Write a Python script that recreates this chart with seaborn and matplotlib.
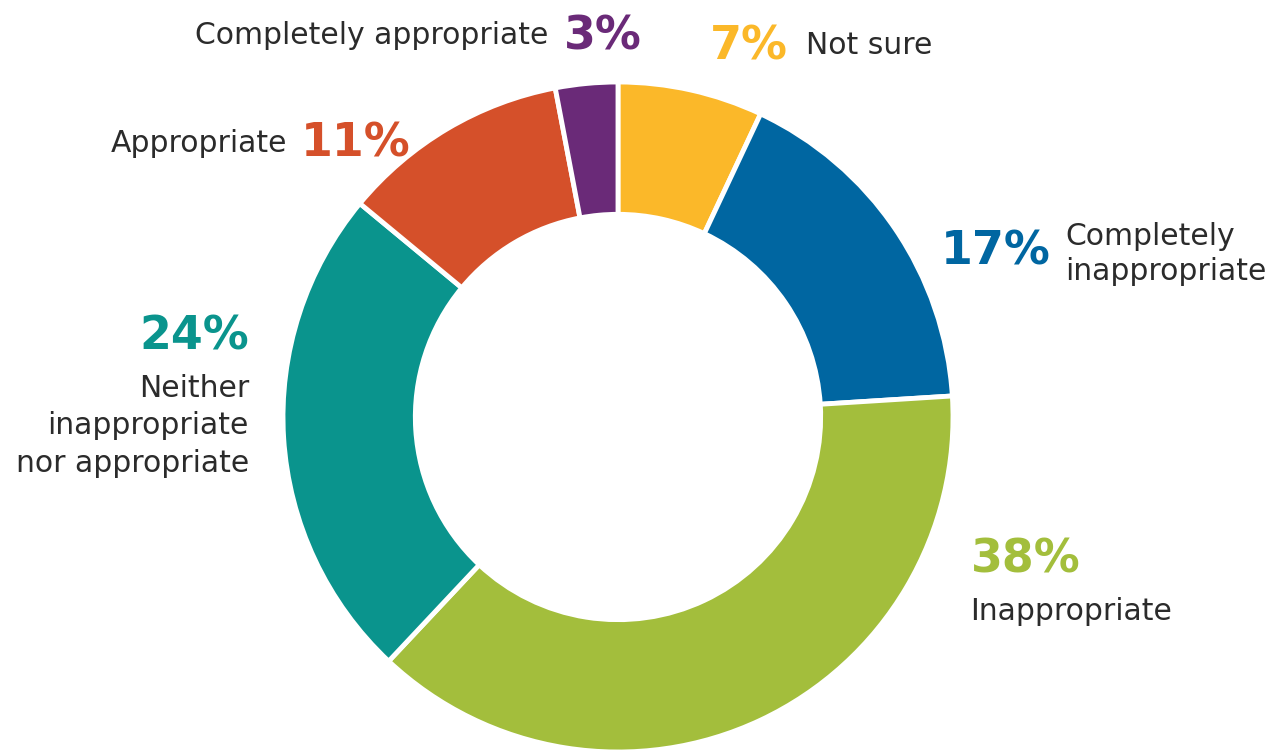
import matplotlib
matplotlib.use("Agg")
import matplotlib.pyplot as plt
import seaborn as sns

sns.set_theme(style="white")
plt.rcParams['font.family'] = ['DejaVu Sans']

# Data, clockwise from 12 o'clock
categories = ["Not sure", "Completely inappropriate", "Inappropriate",
              "Neither inappropriate nor appropriate", "Appropriate",
              "Completely appropriate"]
values = [7, 17, 38, 24, 11, 3]
colors = ["#FBB829", "#0066A1", "#A3BE3C", "#0A948D", "#D5502A", "#6A2A78"]

W, H = 1284, 754
fig = plt.figure(figsize=(W / 100, H / 100), dpi=100)
ax = fig.add_axes([0, 0, 1, 1])

cx, cy, r = 618, H - 417, 335
ax.pie(values, colors=colors, startangle=90, counterclock=False,
       center=(cx, cy), radius=r,
       wedgeprops=dict(width=r * 0.395, edgecolor="white", linewidth=3.5))
ax.set_xlim(0, W)
ax.set_ylim(0, H)
ax.set_aspect("equal")
ax.axis("off")

txt = "#2b2b2b"
pct_fs = 33
lab_fs = 21.5


def y(p):
    return H - p


# Completely appropriate 3%
ax.text(548, y(36), "Completely appropriate", ha="right", va="center",
        fontsize=lab_fs, color=txt)
ax.text(564, y(37), f"{values[5]}%", ha="left", va="center",
        fontsize=pct_fs, fontweight="bold", color=colors[5])
# Not sure 7%
ax.text(710, y(47), f"{values[0]}%", ha="left", va="center",
        fontsize=pct_fs, fontweight="bold", color=colors[0])
ax.text(806, y(46), "Not sure", ha="left", va="center",
        fontsize=lab_fs, color=txt)
# Appropriate 11%
ax.text(287, y(144), "Appropriate", ha="right", va="center",
        fontsize=lab_fs, color=txt)
ax.text(301, y(144), f"{values[4]}%", ha="left", va="center",
        fontsize=pct_fs, fontweight="bold", color=colors[4])
# Completely inappropriate 17%
ax.text(941, y(252), f"{values[1]}%", ha="left", va="center",
        fontsize=pct_fs, fontweight="bold", color=colors[1])
ax.text(1065, y(254), "Completely\ninappropriate", ha="left", va="center",
        fontsize=lab_fs, color=txt, linespacing=1.3)
# Neither 24%
ax.text(249, y(337), f"{values[3]}%", ha="right", va="center",
        fontsize=pct_fs, fontweight="bold", color=colors[3])
ax.text(249, y(426), "Neither\ninappropriate\nnor appropriate", ha="right",
        va="center", fontsize=lab_fs, color=txt, linespacing=1.35)
# Inappropriate 38%
ax.text(971, y(560), f"{values[2]}%", ha="left", va="center",
        fontsize=pct_fs, fontweight="bold", color=colors[2])
ax.text(970, y(611), "Inappropriate", ha="left", va="center",
        fontsize=lab_fs, color=txt)

fig.savefig("out.png", dpi=100, facecolor="white")
